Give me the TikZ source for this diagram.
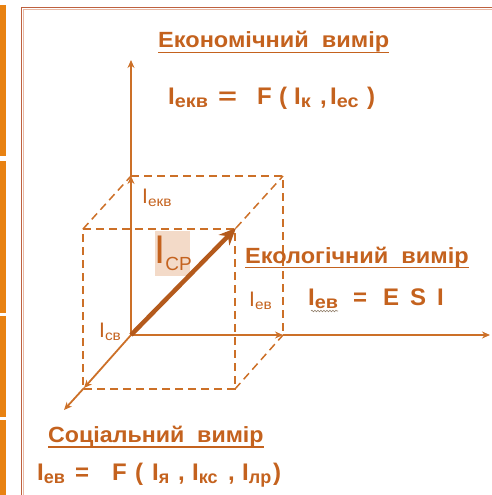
\documentclass[tikz,border=0pt]{standalone}
\usepackage{fontspec}
\setmainfont{Liberation Sans}
\usetikzlibrary{arrows.meta,decorations.pathmorphing}
\definecolor{txtc}{RGB}{196,98,30}
\definecolor{linec}{RGB}{204,112,40}
\definecolor{framec}{RGB}{190,96,62}
\definecolor{framein}{RGB}{232,185,165}
\definecolor{barc}{RGB}{232,130,18}
\definecolor{boxc}{RGB}{243,218,200}
\newcommand{\IS}[2]{I\raisebox{-3pt}{\fontsize{#1}{#1}\selectfont\scalebox{1.1}[1]{#2}}}
\newcommand{\IT}[2]{I\raisebox{-3pt}{\fontsize{#1}{#1}\selectfont #2}}
\newcommand{\pc}[2]{\makebox[#1pt][l]{#2}}
\begin{document}
\begin{tikzpicture}[x=1pt,y=-1pt,
  txt/.style={inner sep=0pt, anchor=base west, text=txtc, font=\bfseries\fontsize{22}{24}\selectfont},
  frm/.style={inner sep=0pt, anchor=base west, text=txtc, font=\bfseries\fontsize{24}{24}\selectfont},
  lbl/.style={inner sep=0pt, anchor=base west, text=txtc, font=\fontsize{21}{21}\selectfont},
  axis/.style={draw=linec, line width=1.8pt, -{Stealth[length=8pt,width=7pt]}},
  dsh/.style={draw=linec, line width=1.5pt, dash pattern=on 8pt off 5pt},
  uline/.style={draw=txtc, line width=1.6pt}]
\useasboundingbox (0,0) rectangle (491,495);
% side bars
\fill[barc] (0,5) rectangle (6,156);
\fill[barc] (0,161) rectangle (6,313);
\fill[barc] (0,316) rectangle (6,417);
\fill[barc] (0,420) rectangle (6,495);
% frame
\draw[framec, line width=1.6pt] (21.5,497) -- (21.5,7.5) -- (493,7.5);
\draw[framein, line width=1pt] (23.5,497) -- (23.5,9.5) -- (493,9.5);
% cube vertices
\coordinate (O) at (131,335);
\coordinate (BTL) at (131,176);
\coordinate (BTR) at (283,176);
\coordinate (BBR) at (283,335);
\coordinate (FTL) at (83,229);
\coordinate (FTR) at (236,228);
\coordinate (FBL) at (84,388);
\coordinate (FBR) at (235,389);
\coordinate (Vend) at (131,60);
\coordinate (Hend) at (490,335);
\coordinate (Dend) at (64,410);
% dashed cube edges
\draw[dsh] (FTL) -- (235,229) -- (FBR) -- (83,389) -- (FTL);
\draw[dsh] (BTL) -- (BTR) -- (BBR);
\draw[dsh] (FTL) -- (BTL);
\draw[dsh] (FTR) -- (BTR);
\draw[dsh] (FBR) -- (BBR);
% axes
\draw[axis] (O) -- (BTL);
\draw[axis] (BTL) -- (Vend);
\draw[axis] (O) -- (BBR);
\draw[axis] (BBR) -- (Hend);
\draw[axis] (O) -- (FBL);
\draw[axis] (FBL) -- (Dend);
% ICP box
\fill[boxc] (155,231) rectangle (190,276);
\node[inner sep=0pt, anchor=base west, text=txtc, font=\fontsize{40}{40}\selectfont] (icp) at (154,263) {I\raisebox{-7pt}{\fontsize{19}{19}\selectfont CP}};
% main diagonal
\draw[draw=txtc!92!black, line width=4.5pt, -{Stealth[length=17pt,width=15pt]}] (O) -- (FTR);
% axis labels
\node[lbl] (lekv) at (142,203) {\IS{14}{екв}};
\node[lbl] (lev) at (249,306) {\IS{14}{ев}};
\node[lbl] (lsv) at (99,337) {\IS{14}{св}};
% economic
\node[txt] (econ) at (158,48) {\scalebox{1.07}[1]{Економічний\ \ вимір}};
\draw[uline] ([yshift=-4.5pt]econ.base west) -- ([yshift=-4.5pt]econ.base east);
\node[frm] (f1) at (168,104) {\pc{50}{\IS{18}{екв}}\pc{39}{\scalebox{1.35}[1]{=}}\pc{22}{F}\pc{15}{(}\pc{26}{\IS{18}{к}}\pc{10}{,}\pc{37}{\IS{18}{ес}})};
% ecological
\node[txt] (ecol) at (245,263) {\scalebox{1.07}[1]{Екологічний\ \ вимір}};
\draw[uline] ([yshift=-4.5pt]ecol.base west) -- ([yshift=-4.5pt]ecol.base east);
\node[frm] (f2) at (308,305) {\pc{45}{\IS{18}{ев}}\pc{30}{=}\pc{27}{E}\pc{27}{S}I};
\draw[draw=gray!70!brown, line width=0.6pt, decorate, decoration={snake, amplitude=0.8pt, segment length=3pt}] (311,311) -- (338,311);
% social
\node[txt] (soc) at (48,442) {\scalebox{1.055}[1]{Соціальний\ \ вимір}};
\draw[uline] ([yshift=-5pt]soc.base west) -- ([yshift=-5pt]soc.base east);
\node[frm] (f3) at (37,480) {\pc{38}{\IT{18}{ев}}\pc{37}{=}\pc{23}{F}\pc{17}{(}\pc{26}{\IT{18}{я}}\pc{14}{,}\pc{36}{\IT{18}{кс}}\pc{14}{,}\pc{31}{\IT{18}{лр}})};
\end{tikzpicture}
\end{document}
